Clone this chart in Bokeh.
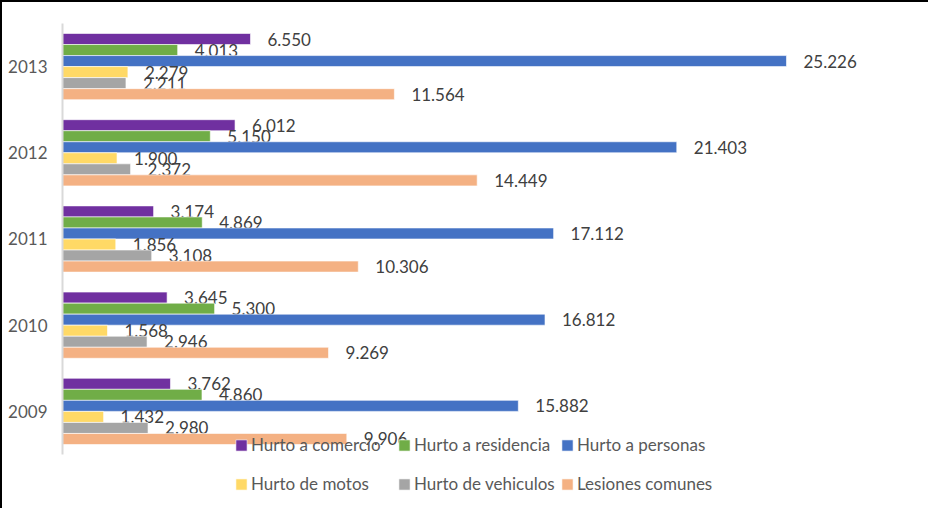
from bokeh.plotting import figure
from bokeh.models import Range1d, ColumnDataSource, Legend, LegendItem, FixedTicker
from bokeh.core.properties import value
from bokeh.embed import file_html
from bokeh.resources import INLINE

years = ["2009", "2010", "2011", "2012", "2013"]
series = ["Hurto a comercio", "Hurto a residencia", "Hurto a personas",
          "Hurto de motos", "Hurto de vehiculos", "Lesiones comunes"]
hurto_comercio = [3762, 3645, 3174, 6012, 6550]
hurto_residencia = [4860, 5300, 4869, 5150, 4013]
hurto_personas = [15882, 16812, 17112, 21403, 25226]
hurto_motos = [1432, 1568, 1856, 1900, 2279]
hurto_vehiculos = [2980, 2946, 3108, 2372, 2211]
lesiones_comunes = [9906, 9269, 10306, 14449, 11564]
values_by_series = [hurto_comercio, hurto_residencia, hurto_personas,
                    hurto_motos, hurto_vehiculos, lesiones_comunes]
colors = ["#7030A0", "#70AD47", "#4472C4", "#FFD966", "#A5A5A5", "#F4B183"]

FONT = "Lato"

# category i occupies [i, i+1] on the y scale; extra room below for the legend
p = figure(width=928, height=508, y_range=Range1d(-0.557, 5.0), x_range=Range1d(0, 30000),
           output_backend="svg", toolbar_location=None,
           min_border_left=60, min_border_right=7, min_border_top=21, min_border_bottom=8)
p.styles = {"border-left": "2px solid black", "border-top": "2px solid black"}
p.outline_line_color = None
p.xgrid.visible = False
p.ygrid.visible = False
p.xaxis.visible = False

centers = [i + 0.5 for i in range(len(years))]
p.yaxis.ticker = FixedTicker(ticks=centers)
p.yaxis.major_label_overrides = {c: y for c, y in zip(centers, years)}
p.yaxis.bounds = (0, len(years))
p.yaxis.axis_line_color = "#D9D9D9"
p.yaxis.axis_line_width = 2
p.yaxis.major_tick_line_color = None
p.yaxis.minor_tick_line_color = None
p.yaxis.major_tick_out = 0
p.yaxis.major_tick_in = 0
p.yaxis.major_label_standoff = 15
p.yaxis.major_label_text_font = FONT
p.yaxis.major_label_text_font_size = "17px"
p.yaxis.major_label_text_color = "#595959"

h = 0.128
renderers = []
for i, (name, vals, col) in enumerate(zip(series, values_by_series, colors)):
    off = (2.5 - i) * h
    ys = [c + off for c in centers]
    src = ColumnDataSource(dict(y=ys, val=vals,
                                lbl=[f"{v/1000:.3f}" for v in vals]))
    r = p.hbar(y="y", right="val", left=0, height=h,
               source=src, fill_color=col, line_color="white", line_width=0.6)
    p.text(x="val", y="y", text="lbl", source=src,
           x_offset=17, text_baseline="middle", text_align="left",
           text_font=value(FONT), text_font_size="17px", text_color="#404040")
    renderers.append(r)

def make_legend(idx, loc):
    lg = Legend(items=[LegendItem(label=series[k], renderers=[renderers[k]]) for k in idx],
                orientation="horizontal", location=loc,
                glyph_width=14, glyph_height=14, label_standoff=3, label_width=146,
                label_text_font=FONT, label_text_font_size="17px",
                label_text_color="#595959", label_height=20,
                spacing=0, padding=0, margin=0,
                border_line_color=None, background_fill_alpha=0)
    p.add_layout(lg, "center")

make_legend([0, 1, 2], (172, 47))
make_legend([3, 4, 5], (172, 8))

open("out.html", "w").write(file_html(p, INLINE))
